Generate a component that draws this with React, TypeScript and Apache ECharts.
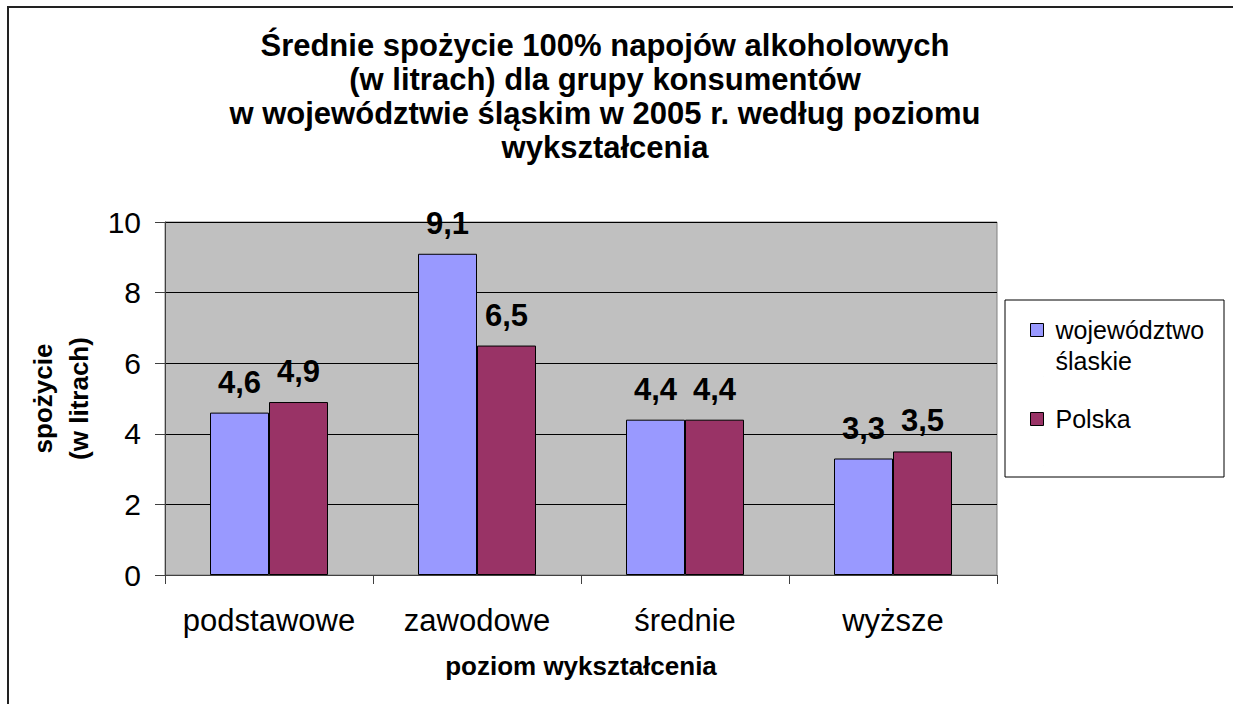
import React, { useEffect, useRef } from "react";
import * as echarts from "echarts";

const categories = ["podstawowe", "zawodowe", "średnie", "wyższe"];
const seriesNames = ["województwo\nślaskie", "Polska"];
const slaskieValues = [4.6, 9.1, 4.4, 3.3];
const polskaValues = [4.9, 6.5, 4.4, 3.5];
const yTicks = { min: 0, max: 10, interval: 2 };
const titleText =
  "Średnie spożycie 100% napojów alkoholowych\n(w litrach) dla grupy konsumentów\nw województwie śląskim w 2005 r. według poziomu\nwykształcenia";

const FONT = '"Liberation Sans", Arial, sans-serif';

// legend marker: a 13px square drawn at the height of the first text line
const LEGEND_ICON = "path://M0 0L0 0.01M0 9L13 9L13 22L0 22ZM13 61.99L13 62";

export default function App() {
  const ref = useRef<HTMLDivElement>(null);
  useEffect(() => {
    if (!ref.current) return;
    const chart = echarts.init(ref.current, null, { renderer: "svg" });
    const fmt = (p: any) => Number(p.value).toFixed(1).replace(".", ",");
    const label = {
      show: true,
      position: "top",
      distance: 15,
      formatter: fmt,
      fontFamily: FONT,
      fontSize: 31,
      fontWeight: "bold",
      color: "#000",
    };
    chart.setOption({
      animation: false,
      backgroundColor: "#fff",
      textStyle: { fontFamily: FONT },
      title: {
        text: titleText,
        left: 605,
        top: 28,
        padding: 0,
        textAlign: "center",
        textStyle: {
          fontFamily: FONT,
          fontSize: 31,
          fontWeight: "bold",
          lineHeight: 34,
          color: "#000",
        },
      },
      graphic: [
        {
          type: "rect",
          shape: { x: 8, y: 7, width: 1400, height: 900 },
          style: { fill: "none", stroke: "#222", lineWidth: 2 },
          silent: true,
          z: 100,
        },
        {
          type: "rect",
          shape: { x: 1005, y: 300, width: 219, height: 177 },
          style: { fill: "#fff", stroke: "#000", lineWidth: 1 },
          silent: true,
          z: 0,
        },
      ],
      legend: {
        orient: "vertical",
        left: 1030,
        top: 314,
        padding: 0,
        itemWidth: 13,
        itemHeight: 62,
        itemGap: 26,
        icon: LEGEND_ICON,
        z: 10,
        formatter: (name: string) => (name.indexOf("\n") >= 0 ? name : name + "\n "),
        textStyle: {
          fontFamily: FONT,
          fontSize: 25,
          lineHeight: 31,
          color: "#000",
          padding: [0, 0, 0, 7],
        },
        itemStyle: { borderColor: "#000", borderWidth: 1 },
        data: seriesNames,
      },
      grid: {
        left: 165,
        right: 1233 - 997,
        top: 222,
        bottom: 704 - 575,
        show: true,
        backgroundColor: "#c0c0c0",
        borderColor: "#808080",
        borderWidth: 1,
        containLabel: false,
      },
      xAxis: {
        type: "category",
        data: categories,
        name: "poziom wykształcenia",
        nameLocation: "middle",
        nameGap: 78,
        nameTextStyle: {
          fontFamily: FONT,
          fontSize: 26,
          fontWeight: "bold",
          color: "#000",
        },
        axisLine: { lineStyle: { color: "#404040", width: 1 } },
        axisTick: { show: true, length: 9, lineStyle: { color: "#404040" } },
        axisLabel: {
          interval: 0,
          margin: 30,
          fontFamily: FONT,
          fontSize: 31,
          color: "#000",
        },
      },
      yAxis: {
        type: "value",
        min: yTicks.min,
        max: yTicks.max,
        interval: yTicks.interval,
        name: "spożycie\n(w litrach)",
        nameLocation: "middle",
        nameRotate: 90,
        nameGap: 68,
        nameTextStyle: {
          fontFamily: FONT,
          fontSize: 26,
          fontWeight: "bold",
          lineHeight: 36,
          color: "#000",
        },
        axisLine: { show: true, lineStyle: { color: "#404040", width: 1 } },
        axisTick: { show: true, length: 10, lineStyle: { color: "#404040" } },
        axisLabel: {
          margin: 24,
          fontFamily: FONT,
          fontSize: 30,
          color: "#000",
        },
        splitLine: { show: true, lineStyle: { color: "#000", width: 1 } },
      },
      series: [
        {
          name: seriesNames[0],
          type: "bar",
          data: slaskieValues,
          barWidth: 59,
          barGap: "0%",
          itemStyle: { color: "#9999ff", borderColor: "#000", borderWidth: 1 },
          label,
        },
        {
          name: seriesNames[1],
          type: "bar",
          data: polskaValues,
          barWidth: 59,
          barGap: "0%",
          itemStyle: { color: "#993366", borderColor: "#000", borderWidth: 1 },
          label,
        },
      ],
    });
    return () => chart.dispose();
  }, []);
  return (
    <div
      ref={ref}
      style={{ position: "absolute", left: 0, top: 0, width: 1233, height: 704 }}
    />
  );
}
